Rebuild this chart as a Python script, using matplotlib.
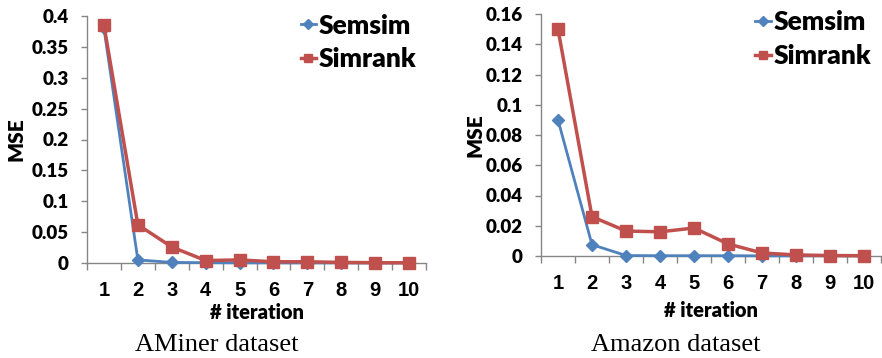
import matplotlib
matplotlib.use("Agg")
import matplotlib.pyplot as plt
from matplotlib.ticker import FixedLocator

# data
iterations = [1, 2, 3, 4, 5, 6, 7, 8, 9, 10]

aminer_semsim = [0.380, 0.005, 0.001, 0.0005, 0.0003, 0.0002, 0.0001, 0.0001, 0.0001, 0.0001]
aminer_simrank = [0.385, 0.062, 0.026, 0.004, 0.005, 0.002, 0.002, 0.001, 0.0005, 0.0003]
aminer_yticks = [0, 0.05, 0.1, 0.15, 0.2, 0.25, 0.3, 0.35, 0.4]

amazon_semsim = [0.090, 0.0075, 0.0003, 0.0002, 0.0002, 0.0002, 0.0001, 0.0001, 0.0001, 0.0001]
amazon_simrank = [0.150, 0.026, 0.0165, 0.016, 0.0185, 0.008, 0.002, 0.0007, 0.0003, 0.0002]
amazon_yticks = [0, 0.02, 0.04, 0.06, 0.08, 0.1, 0.12, 0.14, 0.16]

captions = ["AMiner dataset", "Amazon dataset"]

BLUE = "#4F81BD"
RED = "#C0504D"
GRAY = "#868686"

plt.rcParams["font.family"] = ["Lato", "DejaVu Sans"]

fig = plt.figure(figsize=(8.82, 3.58), dpi=100)

ax1 = fig.add_axes([87 / 882, 1 - 263 / 358, 339 / 882, 247 / 358])
ax2 = fig.add_axes([541 / 882, 1 - 256 / 358, 340 / 882, 242 / 358])


def style_axes(ax, yticks, ylab_x, xlab_y):
    ax.set_xlim(0.5, 10.5)
    ax.set_ylim(yticks[0], yticks[-1])
    for s in ["top", "right"]:
        ax.spines[s].set_visible(False)
    for s in ["left", "bottom"]:
        ax.spines[s].set_color(GRAY)
        ax.spines[s].set_linewidth(1.0)

    ax.set_yticks(yticks, labels=[f"{v:g}" for v in yticks],
                  fontfamily="Lato", fontweight="heavy", fontsize=13.5)
    ax.tick_params(axis="y", length=4, width=1, color=GRAY, pad=9)

    # category labels at integers, tick marks between categories
    ax.set_xticks(iterations, labels=[str(i) for i in iterations],
                  fontfamily="Liberation Sans", fontweight="bold", fontsize=14.5)
    ax.xaxis.set_minor_locator(FixedLocator([i + 0.5 for i in range(0, 11)]))
    ax.tick_params(axis="x", which="major", length=0, pad=13)
    ax.tick_params(axis="x", which="minor", length=5, width=1, color=GRAY)

    ax.set_ylabel("MSE", fontfamily="Lato", fontweight="heavy", fontsize=15)
    ax.yaxis.set_label_coords(ylab_x, 0.5)
    ax.set_xlabel("# iteration", fontfamily="Lato", fontweight="heavy", fontsize=14.5)
    ax.xaxis.set_label_coords(0.5, xlab_y)


def draw(ax, semsim, simrank, leg_x, leg_y):
    ax.plot(iterations, semsim, color=BLUE, lw=2, marker="D", ms=6,
            label="Semsim", clip_on=False, zorder=3)
    ax.plot(iterations, simrank, color=RED, lw=2.5, marker="s", ms=8,
            label="Simrank", clip_on=False, zorder=4)
    ax.legend(loc="upper left", bbox_to_anchor=(leg_x, leg_y), frameon=False,
              handlelength=0.6, handletextpad=0.1, borderpad=0, borderaxespad=0,
              labelspacing=0.36, markerscale=0.8,
              prop={"family": "Lato", "weight": "heavy", "size": 19})


draw(ax1, aminer_semsim, aminer_simrank, 0.63, 1.01)
style_axes(ax1, aminer_yticks, -0.18, -0.16)

draw(ax2, amazon_semsim, amazon_simrank, 0.63, 1.015)
style_axes(ax2, amazon_yticks, -0.165, -0.185)

fig.text(217 / 882, 1 - 345 / 358, captions[0], ha="center", va="center",
         fontfamily="Liberation Serif", fontsize=19)
fig.text(676 / 882, 1 - 345 / 358, captions[1], ha="center", va="center",
         fontfamily="Liberation Serif", fontsize=19)

fig.savefig("out.png", dpi=100)
